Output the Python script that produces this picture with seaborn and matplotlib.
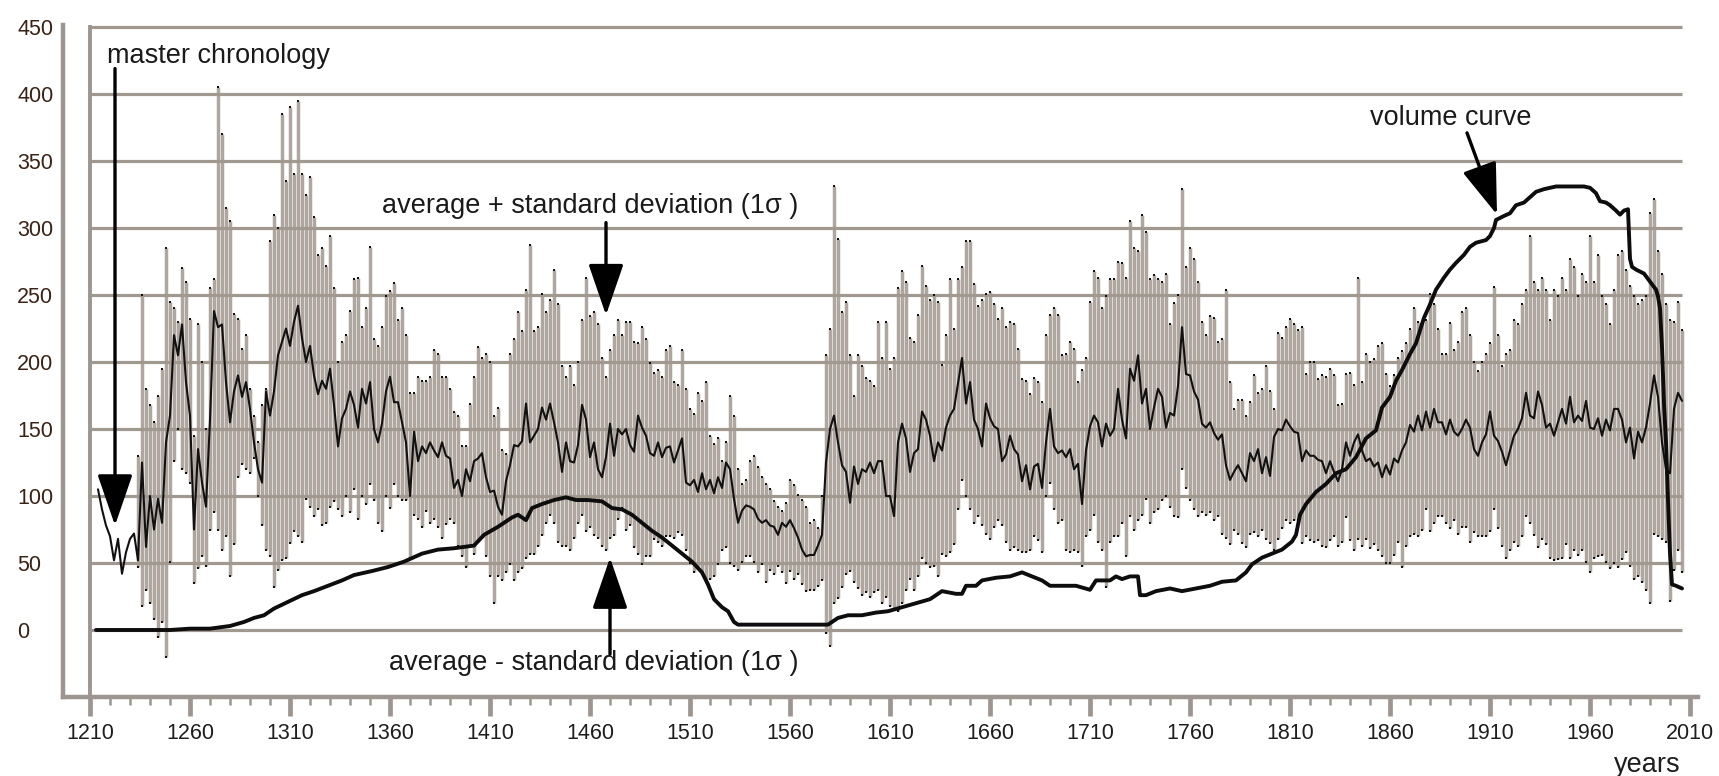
import numpy as np
import pandas as pd
import matplotlib
matplotlib.use("Agg")
import matplotlib.pyplot as plt
import seaborn as sns

# master chronology (mean), one value every 2 years starting 1214
mean_start = 1214
mean_values = [
    105, 90, 78, 70, 52, 68, 42, 58, 68, 72,
    52, 125, 62, 100, 75, 98, 80, 140, 160, 220,
    205, 228, 185, 160, 75, 135, 110, 92, 157, 238,
    226, 228, 185, 155, 178, 190, 174, 185, 165, 140,
    120, 110, 178, 160, 178, 205, 215, 225, 212, 230,
    242, 218, 200, 212, 190, 176, 186, 180, 195, 168,
    137, 158, 165, 178, 168,
    151, 180, 169, 185, 150, 140, 154, 178, 189, 170,
    170, 155, 140, 100, 148, 126, 137, 132, 140, 134,
    129, 140, 130, 128, 106, 112, 100, 120, 111, 126,
    128, 132, 114, 103, 104, 92, 86, 111, 123, 138,
    137, 141, 169, 140, 145, 150, 166, 157, 169, 155,
    140, 118, 140, 126, 125, 138, 168, 157, 129, 140,
    120, 114, 129, 154, 130, 150,
    146, 150, 138, 133, 160, 151, 145, 132, 130, 140,
    129, 136, 137, 125, 134, 143, 110, 108, 112, 103,
    117, 105, 112, 102, 114, 106, 125, 120, 98, 80,
    89, 93, 92, 90, 83, 80, 82, 78, 77, 71,
    80, 77, 82, 76, 69, 60, 55, 56, 56, 63,
    71, 125, 150, 160, 140, 123, 118, 95, 122, 109,
    120, 118, 125, 117, 126, 126, 100,
    100, 85, 140, 154, 143, 118, 132, 135, 163, 157,
    145, 126, 140, 134, 151, 160, 165, 184, 203, 169,
    185, 157, 150, 137, 169, 158, 152, 150, 126, 131,
    145, 135, 131, 111, 123, 105, 122, 124, 106, 140,
    165, 137, 132, 134, 129, 135, 120, 124, 94, 134,
    152, 160, 155, 137, 154, 145, 150, 180, 157, 143,
    195, 186, 205, 169, 180, 150, 166,
    180, 174, 151, 162, 160, 182, 226, 191, 190, 178,
    172, 154, 151, 155, 147, 142, 146, 123, 112, 118,
    123, 117, 111, 132, 126, 135, 117, 129, 115, 144,
    150, 149, 157, 152, 148, 147, 126, 134, 130, 130,
    127, 126, 117, 126, 118, 111, 120, 140, 130, 140,
    146, 134, 126, 128, 122, 125, 114, 123, 116, 128,
    125, 134, 140, 153, 148, 160, 149,
    163, 151, 165, 155, 155, 146, 157, 148, 145, 150,
    157, 151, 135, 130, 140, 146, 163, 145, 141, 133,
    123, 134, 145, 150, 158, 177, 160, 158, 178, 168,
    151, 154, 145, 155, 165, 154, 174, 155, 160, 156,
    171, 151, 150, 158, 145, 157, 149, 165, 165, 157,
    140, 151, 128, 148, 140, 151, 169, 190, 174, 140,
    120, 117, 165, 177, 171,
]

# average + 1 sigma and average - 1 sigma, every 2 years starting 1234
band_start = 1234
upper_values = [
    130, 250, 180, 168, 155, 175, 195, 285, 245, 240,
    230, 270, 260, 232, 145, 228, 200, 150, 255, 262,
    405, 370, 315, 305, 236, 232, 210, 220, 180, 160,
    140, 168, 180, 290, 310, 300, 385, 335, 390, 340,
    395, 340, 325, 338, 308, 280, 285, 272, 294, 255,
    200, 215, 220, 238, 262,
    263, 226, 240, 286, 217, 212, 226, 249, 253, 259,
    231, 240, 220, 177, 177, 189, 186, 186, 189, 209,
    206, 189, 189, 180, 163, 160, 137, 137, 169, 189,
    211, 203, 206, 200, 160, 166, 134, 131, 206, 217,
    237, 223, 254, 287, 223, 226, 251, 237, 246, 269,
    243, 197, 189, 197, 183, 200, 231, 263, 234, 237,
    228, 203, 189, 209, 220, 231,
    220, 230, 230, 215, 214, 226, 217, 199, 192, 194,
    189, 209, 212, 185, 183, 209, 180, 165, 161, 177,
    171, 185, 145, 139, 143, 126, 140, 175, 160, 120,
    109, 112, 126, 130, 122, 114, 109, 105, 96, 92,
    89, 95, 112, 108, 101, 97, 92, 80, 82, 76,
    100, 205, 225, 331, 292, 237, 245, 205, 175, 205,
    197, 188, 186, 182, 230, 203, 230,
    195, 203, 255, 268, 260, 218, 215, 235, 272, 257,
    246, 250, 245, 198, 220, 262, 225, 262, 271, 290,
    290, 258, 242, 246, 251, 252, 243, 232, 240, 226,
    230, 228, 210, 187, 186, 176, 188, 185, 170, 220,
    235, 240, 235, 205, 206, 215, 210, 185, 194, 203,
    245, 268, 263, 240, 249, 262, 262, 275, 274, 263,
    305, 285, 283, 310, 297, 262, 265,
    262, 260, 266, 228, 244, 250, 329, 271, 285, 277,
    260, 230, 220, 234, 233, 215, 217, 254, 185, 165,
    172, 172, 160, 170, 190, 177, 180, 197, 178, 165,
    222, 218, 226, 232, 228, 224, 226, 191, 200, 200,
    187, 190, 189, 195, 190, 168, 169, 191, 192, 183,
    263, 185, 206, 200, 202, 212, 214, 191, 182, 190,
    203, 208, 214, 225, 240, 230, 228,
    231, 251, 243, 225, 206, 206, 229, 209, 215, 237,
    240, 220, 200, 193, 200, 206, 214, 256, 220, 197,
    206, 209, 231, 228, 243, 254, 294, 260, 254, 263,
    254, 231, 254, 249, 263, 254, 277, 271, 249, 266,
    260, 294, 260, 280, 249, 243, 228, 254, 280, 283,
    269, 257, 249, 243, 246, 249, 311, 322, 283, 266,
    243, 231, 230, 245, 224,
]
lower_values = [
    47, 18, 30, 20, 8, -5, 6, -20, 51, 126,
    150, 120, 117, 110, 35, 46, 55, 48, 75, 88,
    75, 60, 70, 40, 64, 114, 124, 120, 117, 128,
    100, 78, 60, 55, 32, 45, 52, 54, 65, 74,
    70, 66, 98, 92, 85, 90, 78, 80, 92, 96,
    90, 85, 100, 88, 105,
    83, 100, 94, 109, 97, 80, 74, 100, 91, 109,
    100, 97, 97, 54, 86, 83, 77, 89, 80, 83,
    77, 69, 79, 83, 80, 63, 55, 47, 63, 57,
    66, 69, 55, 40, 20, 40, 37, 43, 49, 37,
    43, 46, 54, 57, 57, 63, 71, 80, 86, 80,
    66, 63, 63, 60, 69, 80, 86, 74, 77, 71,
    69, 63, 60, 69, 71, 83,
    91, 75, 78, 62, 57, 49, 55, 55, 68, 66,
    63, 70, 70, 69, 73, 71, 60, 50, 43, 47,
    43, 37, 38, 40, 49, 60, 62, 50, 48, 45,
    51, 55, 55, 51, 43, 49, 36, 45, 42, 48,
    43, 35, 44, 38, 42, 34, 29, 30, 30, 33,
    37, -2, -12, 20, 24, 32, 42, 44, 36, 31,
    26, 28, 25, 28, 30, 20, 25,
    18, 15, 14, 20, 30, 38, 30, 40, 54, 50,
    47, 48, 40, 57, 55, 58, 64, 90, 112, 100,
    90, 80, 85, 78, 72, 68, 77, 82, 78, 66,
    60, 62, 60, 58, 58, 60, 70, 67, 58, 100,
    110, 90, 80, 82, 60, 58, 60, 58, 48, 70,
    75, 86, 66, 60, 32, 66, 70, 70, 80, 55,
    85, 75, 82, 86, 98, 80, 88,
    90, 97, 100, 92, 85, 84, 120, 106, 97, 90,
    85, 88, 86, 88, 82, 85, 72, 69, 64, 75,
    72, 65, 62, 72, 73, 70, 75, 68, 65, 60,
    68, 76, 82, 80, 82, 82, 65, 70, 67, 66,
    67, 63, 62, 67, 70, 63, 66, 84, 67, 60,
    68, 63, 68, 61, 64, 60, 55, 50, 50, 56,
    66, 47, 63, 70, 72, 70, 75,
    90, 74, 80, 85, 85, 80, 76, 82, 72, 77,
    77, 66, 73, 70, 70, 70, 74, 90, 76, 63,
    54, 60, 66, 63, 70, 85, 80, 71, 62, 68,
    64, 54, 52, 53, 54, 64, 54, 60, 56, 60,
    51, 43, 54, 55, 56, 51, 46, 50, 47, 53,
    58, 48, 38, 40, 36, 30, 20, 72, 70, 68,
    66, 22, 45, 60, 43,
]

# volume curve
volume_years = [
    1213, 1230, 1250, 1260, 1270, 1280, 1287, 1292, 1297, 1302,
    1309, 1316, 1322, 1329, 1336, 1342, 1351, 1359, 1367, 1376,
    1384, 1392, 1402, 1407, 1414, 1421, 1424, 1428, 1431, 1436,
    1442, 1448, 1453, 1459, 1466, 1471, 1476, 1481, 1486, 1491,
    1496, 1501, 1506, 1511, 1516, 1519, 1522, 1526, 1529, 1532,
    1534, 1550, 1565, 1579, 1584, 1589, 1596, 1603, 1609, 1616,
    1623, 1630, 1636, 1643, 1646, 1648, 1653, 1656, 1663, 1670,
    1676, 1681, 1686, 1690, 1696, 1703, 1710, 1713, 1720, 1723,
    1726, 1730, 1734, 1735, 1738, 1743, 1750, 1756, 1763, 1770,
    1776, 1783, 1788, 1791, 1796, 1801, 1806, 1811, 1813, 1815,
    1818, 1823, 1828, 1833, 1838, 1843, 1848, 1853, 1856, 1860,
    1863, 1866, 1870, 1873, 1877, 1880, 1883, 1887, 1890, 1893,
    1897, 1900, 1903, 1908, 1910, 1912, 1913, 1917, 1920, 1923,
    1927, 1930, 1933, 1937, 1940, 1943, 1950, 1957, 1960, 1963,
    1965, 1968, 1970, 1973, 1975, 1977, 1979, 1980, 1981, 1983,
    1987, 1990, 1993, 1994, 1995, 1996, 1997, 1998, 1999, 2000,
    2001, 2003, 2006,
]
volume_values = [
    0, 0, 0, 1, 1, 3, 6, 9, 11, 16,
    21, 26, 29, 33, 37, 41, 44, 47, 51, 57,
    60, 61, 63, 71, 77, 84, 86, 82, 91, 94,
    97, 99, 97, 97, 96, 91, 90, 86, 80, 74,
    69, 63, 57, 51, 43, 34, 23, 17, 14, 6,
    4, 4, 4, 4, 9, 11, 11, 13, 14, 17,
    20, 23, 29, 27, 27, 33, 33, 37, 39, 40,
    43, 40, 37, 33, 33, 33, 30, 37, 37, 40,
    38, 40, 40, 26, 26, 29, 31, 29, 31, 33,
    36, 37, 43, 49, 54, 57, 60, 66, 71, 86,
    94, 103, 109, 117, 120, 129, 143, 149, 166, 174,
    186, 194, 206, 214, 233, 243, 254, 263, 269, 274,
    280, 286, 289, 291, 294, 300, 306, 309, 311, 317,
    319, 323, 327, 329, 330, 331, 331, 331, 330, 326,
    320, 319, 317, 313, 310, 313, 314, 277, 271, 269,
    266, 260, 254, 249, 240, 211, 169, 140, 97, 57,
    34, 33, 31,
]

y_ticks = [0, 50, 100, 150, 200, 250, 300, 350, 400, 450]
x_ticks = [1210, 1260, 1310, 1360, 1410, 1460, 1510, 1560, 1610,
           1660, 1710, 1760, 1810, 1860, 1910, 1960, 2010]

mean_df = pd.DataFrame({
    "year": np.arange(mean_start, mean_start + 2 * len(mean_values), 2),
    "value": mean_values,
})
band_df = pd.DataFrame({
    "year": np.arange(band_start, band_start + 2 * len(upper_values), 2),
    "upper": upper_values,
    "lower": lower_values,
})
vol_df = pd.DataFrame({"year": volume_years, "value": volume_values})

# style
sns.set_style("white")
plt.rcParams["font.family"] = ["Liberation Sans", "DejaVu Sans"]

axis_color = "#9d958f"
grid_color = "#a1998f"
bar_color = "#aea69f"

fig = plt.figure(figsize=(17.19, 7.76), dpi=100)
ax = fig.add_axes([63 / 1719, 79 / 776, 1635 / 1719, 672 / 776])
ax.set_xlim(1196.5, 2014)
ax.set_ylim(-50, 451.5)

# horizontal grid
ax.hlines(y_ticks, 1210, 2006, color=grid_color, lw=2.3, zorder=3)
# inner vertical line at 1210
ax.vlines(1210, -50, 451.5, color=axis_color, lw=2.8, zorder=3)

# sigma bars with end dots
ax.vlines(band_df["year"], band_df["lower"], band_df["upper"],
          color=bar_color, lw=2.5, zorder=2)
sns.scatterplot(data=band_df, x="year", y="upper", marker="s", s=4,
                color="#111111", linewidth=0, zorder=4, ax=ax)
sns.scatterplot(data=band_df, x="year", y="lower", marker="s", s=4,
                color="#111111", linewidth=0, zorder=4, ax=ax)

# master chronology
sns.lineplot(data=mean_df, x="year", y="value", color="#111111",
             lw=1.5, zorder=5, ax=ax)
# volume curve
sns.lineplot(data=vol_df, x="year", y="value", color="#0d0d0d",
             lw=2.8, zorder=6, ax=ax)

# axes
for side in ["top", "right"]:
    ax.spines[side].set_visible(False)
for side in ["left", "bottom"]:
    ax.spines[side].set_color(axis_color)
    ax.spines[side].set_linewidth(3.2)

ax.set_xticks(x_ticks)
ax.set_xticks(list(range(1210, 2011, 10)), minor=True)
ax.tick_params(axis="x", which="both", bottom=True, direction="out")
ax.tick_params(axis="x", which="major", length=14, width=3.4,
               color=axis_color, labelsize=15.5, labelcolor="#1e1e1e", pad=5)
ax.tick_params(axis="x", which="minor", length=6, width=1.8,
               color=axis_color)
ax.set_yticks(y_ticks)
ax.tick_params(axis="y", left=False, length=0, pad=33, labelsize=15.5,
               labelcolor="#3a2214")
for lab in ax.get_yticklabels():
    lab.set_horizontalalignment("left")
ax.set_xlabel("")
ax.set_ylabel("")

fig.text(1647 / 1719, 1 - 765 / 776, "years", ha="center", va="center",
         fontsize=19.5, color="#1e1e1e")

# labels and arrows
txt = dict(fontsize=19.5, color="#1a1a1a", va="baseline", ha="left", zorder=8)
ax.text(1218.5, 423, "master chronology", **txt)
ax.text(1356, 311, "average + standard deviation (1σ )", **txt)
ax.text(1359.5, -30, "average - standard deviation (1σ )", **txt)
ax.text(1850, 377, "volume curve", **txt)

arrow = dict(arrowstyle="-|>,head_length=1.6,head_width=0.55",
             mutation_scale=20, lw=2.4, color="black",
             shrinkA=0, shrinkB=0)
ax.annotate("", xy=(1222.5, 78), xytext=(1222.5, 419), arrowprops=arrow, zorder=9)
ax.annotate("", xy=(1468, 235), xytext=(1468, 304), arrowprops=arrow, zorder=9)
ax.annotate("", xy=(1470, 54), xytext=(1470, -18), arrowprops=arrow, zorder=9)
ax.annotate("", xy=(1913.5, 310), xytext=(1898.5, 371), arrowprops=arrow, zorder=9)

plt.savefig("out.png", dpi=100)
